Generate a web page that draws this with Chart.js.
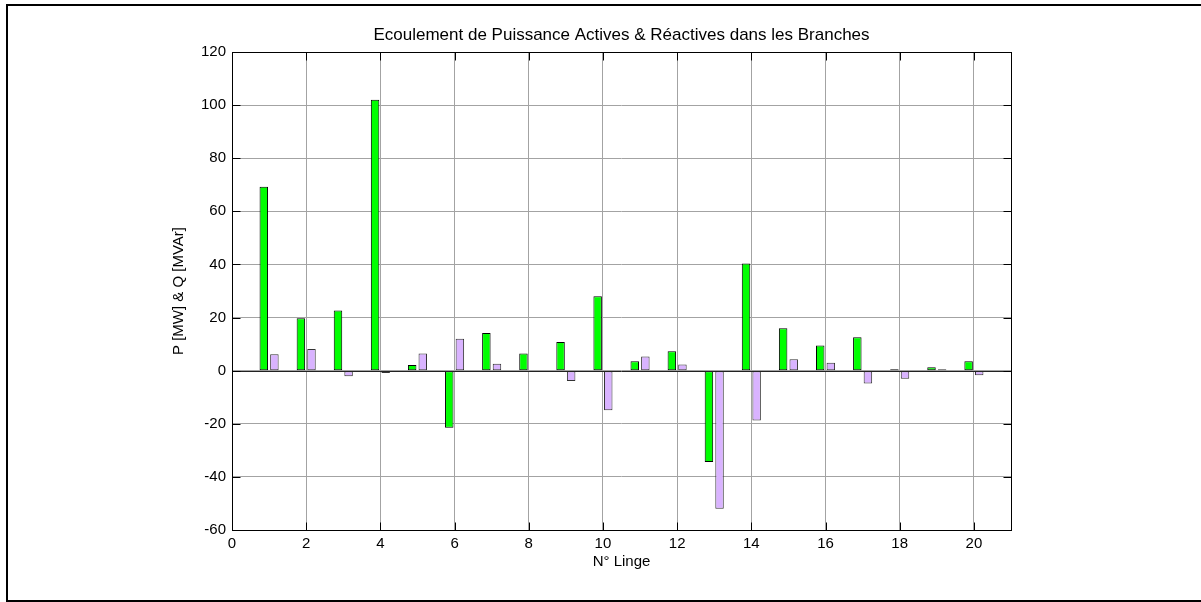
<!DOCTYPE html>
<html>
<head>
<meta charset="utf-8">
<script src="https://cdn.jsdelivr.net/npm/chart.js@4/dist/chart.umd.min.js"></script>
<style>
  html, body { margin: 0; padding: 0; background: #fff; }
  canvas { display: block; }
</style>
</head>
<body>
<canvas id="chart" width="1201" height="602"></canvas>
<script>
// Branch numbers (N° Linge)
const lineNumbers = [1, 2, 3, 4, 5, 6, 7, 8, 9, 10, 11, 12, 13, 14, 15, 16, 17, 18, 19, 20];
// Active power flow P [MW] per branch
const activePower = [69.3, 19.7, 22.7, 102.0, 2.1, -21.5, 14.2, 6.5, 10.8, 28.0, 3.5, 7.3, -34.4, 40.4, 16.0, 9.5, 12.6, 0.5, 1.3, 3.5];
// Reactive power flow Q [MVAr] per branch
const reactivePower = [6.2, 8.2, -2.1, -0.9, 6.5, 12.0, 2.6, -0.5, -3.9, -14.9, 5.3, 2.3, -52.0, -18.8, 4.3, 3.0, -4.8, -3.0, 0.5, -1.7];
// Axis tick values
const xTickValues = [0, 2, 4, 6, 8, 10, 12, 14, 16, 18, 20];
const yTickValues = [-60, -40, -20, 0, 20, 40, 60, 80, 100, 120];

const FONT = "'Liberation Sans', Arial, sans-serif";

// Page frame, axes box, inward tick marks and the zero baseline
const decorations = {
  id: 'decorations',
  beforeDraw(chart) {
    const ctx = chart.ctx;
    ctx.save();
    ctx.fillStyle = '#fff';
    ctx.fillRect(0, 0, chart.width, chart.height);
    ctx.restore();
  },
  afterDatasetsDraw(chart) {
    const { ctx, chartArea: a, scales: { y } } = chart;
    ctx.save();
    // zero baseline
    const y0 = Math.round(y.getPixelForValue(0)) + 0.5;
    ctx.strokeStyle = '#222';
    ctx.lineWidth = 1;
    ctx.beginPath();
    ctx.moveTo(a.left, y0);
    ctx.lineTo(a.right, y0);
    ctx.stroke();
    ctx.restore();
  },
  afterDraw(chart) {
    const { ctx, chartArea: a, scales: { x, y } } = chart;
    const L = Math.round(a.left) + 0.5, R = Math.round(a.right) + 0.5;
    const T = Math.round(a.top) + 0.5, B = Math.round(a.bottom) + 0.5;
    ctx.save();
    ctx.strokeStyle = '#000';
    ctx.lineWidth = 1;
    // inward ticks
    const tl = 8;
    ctx.beginPath();
    x.ticks.forEach(t => {
      const px = Math.round(x.getPixelForValue(t.value)) + 0.5;
      ctx.moveTo(px, B); ctx.lineTo(px, B - tl);
      ctx.moveTo(px, T); ctx.lineTo(px, T + tl);
    });
    y.ticks.forEach(t => {
      const py = Math.round(y.getPixelForValue(t.value)) + 0.5;
      ctx.moveTo(L, py); ctx.lineTo(L + tl, py);
      ctx.moveTo(R, py); ctx.lineTo(R - tl, py);
    });
    ctx.stroke();
    // axes box
    ctx.strokeRect(L, T, R - L, B - T);
    // outer frame
    ctx.lineWidth = 2;
    ctx.beginPath();
    ctx.moveTo(chart.width, 5);
    ctx.lineTo(7, 5);
    ctx.lineTo(7, 601);
    ctx.lineTo(chart.width, 601);
    ctx.stroke();
    ctx.restore();
  }
};

new Chart(document.getElementById('chart'), {
  type: 'bar',
  data: {
    datasets: [
      {
        label: 'P [MW]',
        data: lineNumbers.map((n, i) => ({ x: n, y: activePower[i] })),
        backgroundColor: '#00ff00',
        borderColor: '#000',
        borderWidth: 1,
        borderSkipped: false
      },
      {
        label: 'Q [MVAr]',
        data: lineNumbers.map((n, i) => ({ x: n, y: reactivePower[i] })),
        backgroundColor: '#d9b3ff',
        borderColor: '#333',
        borderWidth: 1,
        borderSkipped: false
      }
    ]
  },
  options: {
    responsive: false,
    animation: false,
    categoryPercentage: 0.5714,
    barPercentage: 0.8,
    layout: { padding: { left: 0, right: 190, top: 0, bottom: 0 } },
    plugins: {
      legend: { display: false },
      tooltip: { enabled: false },
      title: {
        display: true,
        fullSize: false,
        text: 'Ecoulement de Puissance Actives & Réactives dans les Branches',
        color: '#000',
        font: { family: FONT, size: 17, weight: 'normal' },
        padding: { top: 25, bottom: 6.6 }
      }
    },
    scales: {
      x: {
        type: 'linear',
        min: 0,
        max: 21,
        offset: false,
        afterBuildTicks: s => { s.ticks = xTickValues.map(v => ({ value: v })); },
        afterFit: s => { s.height = 72; },
        grid: { offset: false, color: '#a3a3a3', lineWidth: 1, drawTicks: false },
        border: { display: false },
        ticks: {
          color: '#000',
          padding: 5,
          maxRotation: 0,
          autoSkip: false,
          font: { family: FONT, size: 15 }
        },
        title: {
          display: true,
          text: 'N° Linge',
          color: '#000',
          font: { family: FONT, size: 15 },
          padding: { top: 0, bottom: 31 }
        }
      },
      y: {
        min: -60,
        max: 120,
        afterBuildTicks: s => { s.ticks = yTickValues.map(v => ({ value: v })); },
        afterFit: s => { s.width = 232; },
        grid: { color: '#a3a3a3', lineWidth: 1, drawTicks: false },
        border: { display: false },
        ticks: {
          color: '#000',
          padding: 6,
          font: { family: FONT, size: 15 }
        },
        title: {
          display: true,
          text: 'P [MW] & Q [MVAr]',
          color: '#000',
          font: { family: FONT, size: 15 },
          padding: { top: 170, bottom: 0 }
        }
      }
    }
  },
  plugins: [decorations]
});
</script>
</body>
</html>
